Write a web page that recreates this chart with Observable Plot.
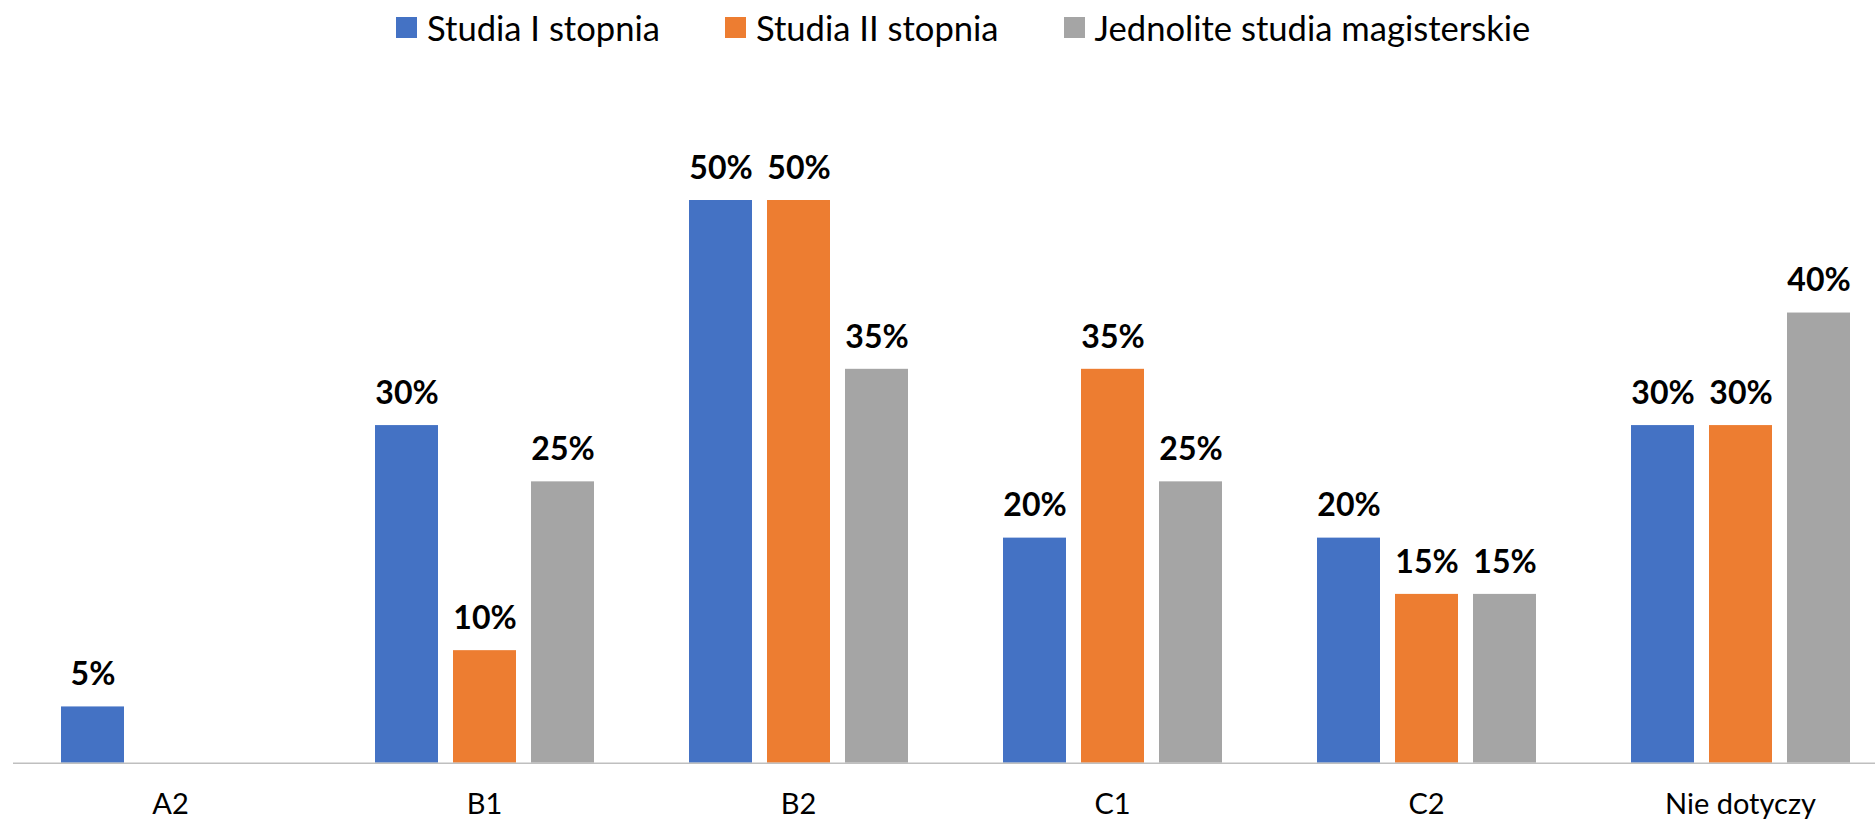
<!DOCTYPE html>
<html>
<head>
<meta charset="utf-8">
<script src="https://cdn.jsdelivr.net/npm/d3@7"></script>
<script src="https://cdn.jsdelivr.net/npm/@observablehq/plot@0.6"></script>
<style>
  html, body { margin: 0; padding: 0; background: #fff; }
  #legend { position: relative; height: 55px; display: flex; align-items: center; padding-left: 396px;
            font-family: Lato, "Open Sans", sans-serif; font-size: 34.6px; color: #000; }
  .item { display: flex; align-items: center; margin-right: 65px; }
  .sw { width: 21px; height: 21px; margin-right: 10px; }
  #chart svg { display: block; }
</style>
</head>
<body>
<div id="legend"></div>
<div id="chart"></div>
<script>
const categories = ["A2", "B1", "B2", "C1", "C2", "Nie dotyczy"];
const series = ["Studia I stopnia", "Studia II stopnia", "Jednolite studia magisterskie"];
const studiaI = [5, 30, 50, 20, 20, 30];
const studiaII = [null, 10, 50, 35, 15, 30];
const jednolite = [null, 25, 35, 25, 15, 40];
const colors = ["#4472C4", "#ED7D31", "#A5A5A5"];

const seriesValues = [studiaI, studiaII, jednolite];
const data = [];
categories.forEach((c, i) => {
  series.forEach((s, j) => {
    const v = seriesValues[j][i];
    if (v != null) data.push({category: c, series: s, value: v});
  });
});

// legend
const legend = document.getElementById("legend");
series.forEach((s, j) => {
  const it = document.createElement("div");
  it.className = "item";
  const sw = document.createElement("div");
  sw.className = "sw";
  sw.style.background = colors[j];
  const t = document.createElement("span");
  t.textContent = s;
  it.appendChild(sw);
  it.appendChild(t);
  legend.appendChild(it);
});

const W = 1875, H = 764;
const baseY = 707.7;
const plot = Plot.plot({
  width: W,
  height: H,
  marginLeft: 11,
  marginRight: 0,
  marginTop: 32.5,
  marginBottom: H - baseY,
  style: {fontFamily: "Lato, 'Open Sans', sans-serif", fontSize: "29px", color: "#000", background: "#fff"},
  fx: {domain: categories, range: [11, 1899], padding: 0, label: null, axis: "bottom", tickSize: 0, tickPadding: 30},
  x: {domain: series, paddingInner: 0.197, paddingOuter: 0.603, axis: null},
  y: {domain: [0, 60], range: [baseY, baseY - 60 * 11.254], axis: null},
  color: {domain: series, range: colors},
  marks: [
    Plot.barY(data, {fx: "category", x: "series", y: "value", fill: "series"}),
    Plot.ruleY([0], {stroke: "#BFBFBF", strokeWidth: 1.5}),
    Plot.text(data, {fx: "category", x: "series", y: "value", text: d => d.value + "%",
      dy: -32, fontSize: 32, fontWeight: "bold", fill: "#000"})
  ]
});
document.getElementById("chart").appendChild(plot);
</script>
</body>
</html>
